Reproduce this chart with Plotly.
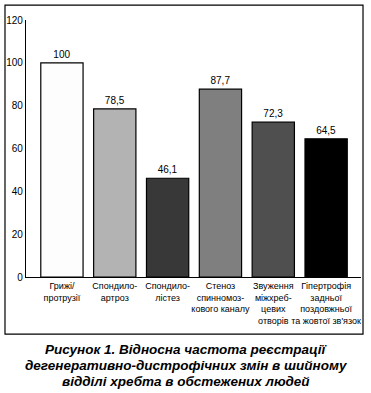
import plotly.graph_objects as go

categories = ["Грижі/<br>протрузії", "Спондило-<br>артроз", "Спондило-<br>лістез",
              "Стеноз<br>спинномоз-<br>кового каналу", "Звуження<br>міжхреб-<br>цевих<br>отворів",
              "Гіпертрофія<br>задньої<br>поздовжньої<br>та жовтої зв'язок"]
values = [100, 78.5, 46.1, 87.7, 72.3, 64.5]
colors = ["#fdfdfd", "#b3b3b3", "#383838", "#7f7f7f", "#4f4f4f", "#000000"]
y_ticks = [0, 20, 40, 60, 80, 100, 120]
caption = ["Рисунок 1. Відносна частота реєстрації",
           "дегенеративно-дистрофічних змін в шийному",
           "відділі хребта в обстежених людей"]

xs = list(range(len(values)))
labels = [f"{v:g}".replace(".", ",") for v in values]

fig = go.Figure(go.Bar(
    x=xs, y=values, width=0.8,
    marker=dict(color=colors, line=dict(color="#000", width=1.2)),
    text=labels, textposition="outside", cliponaxis=False,
    textfont=dict(family="Liberation Sans, Arial", size=10, color="#000"),
))

fig.update_layout(
    width=371, height=393,
    margin=dict(l=26, r=10, t=20, b=116),
    paper_bgcolor="white", plot_bgcolor="white",
    showlegend=False,
    font=dict(family="Liberation Sans, Arial", size=10, color="#000"),
    xaxis=dict(range=[-0.68, 5.66], tickvals=xs, ticktext=categories,
               showline=True, linecolor="#000", linewidth=1.2, ticks="",
               showgrid=False, zeroline=False, tickangle=0, automargin=False,
               tickfont=dict(size=9)),
    yaxis=dict(range=[0, 120], tickvals=y_ticks, showline=True, linecolor="#000",
               linewidth=1.2, ticks="", showgrid=False, zeroline=False,
               automargin=False, tickfont=dict(size=10)),
    shapes=[dict(type="rect", xref="paper", yref="paper",
                 x0=-0.0627, x1=1.006, y0=-0.222, y1=1.058,
                 line=dict(color="#000", width=1.2), layer="below")],
)

for i, line in enumerate(caption):
    fig.add_annotation(xref="paper", yref="paper", x=(186 - 26) / 335,
                       y=(277 - (349 + 16 * i)) / 257, text=f"<b><i>{line}</i></b>",
                       showarrow=False, xanchor="center", yanchor="middle",
                       font=dict(family="Liberation Sans, Arial", size=13.5, color="#000"))

fig.write_html("out.html", config={"displayModeBar": False},
               post_script="document.body.style.margin='0';")
